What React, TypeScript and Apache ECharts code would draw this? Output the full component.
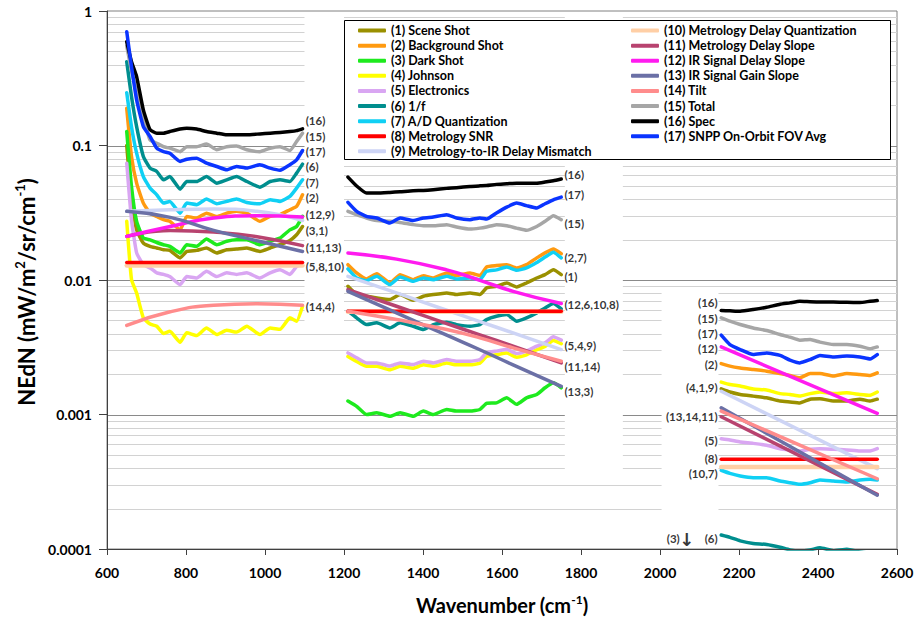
import React, { useEffect, useRef } from "react";
import * as echarts from "echarts";

const FONT = "Lato, 'Noto Sans', sans-serif";

// Wavenumber sampling (cm^-1) for the three bands
const WN_LW = [650, 662, 675, 692, 709, 726, 743, 759, 785, 802, 827, 852, 878, 903, 928, 954, 987, 1013, 1038, 1063, 1080, 1095];
const WN_LW_S = [650, 760, 870, 980, 1095];
const WN_LW_F = [650, 1095];
const WN_MW = [1210, 1232, 1257, 1283, 1316, 1342, 1375, 1401, 1426, 1460, 1485, 1519, 1544, 1561, 1586, 1612, 1637, 1662, 1688, 1709, 1730, 1750];
const WN_MW_S = [1210, 1333, 1460, 1544, 1628, 1750];
const WN_MW_F = [1210, 1750];
const WN_SW = [2155, 2177, 2203, 2236, 2270, 2304, 2329, 2354, 2380, 2405, 2439, 2473, 2506, 2532, 2550];
const WN_SW_F = [2155, 2550];

// NEdN values (mW/m^2/sr/cm^-1)
const SCENE_LW = [0.1, 0.0395, 0.0236, 0.0188, 0.0178, 0.0173, 0.0168, 0.0166, 0.0146, 0.0163, 0.0166, 0.0173, 0.0159, 0.0168, 0.017, 0.0173, 0.0163, 0.0173, 0.0183, 0.0197, 0.0217, 0.025];
const SCENE_MW = [0.00898, 0.00779, 0.00757, 0.00735, 0.00715, 0.00779, 0.00707, 0.00757, 0.00779, 0.00801, 0.00779, 0.00801, 0.00779, 0.00873, 0.00898, 0.0095, 0.00888, 0.0095, 0.01035, 0.01096, 0.0119, 0.01096];
const SCENE_SW = [0.00155, 0.00147, 0.00141, 0.00137, 0.00133, 0.00126, 0.00124, 0.00122, 0.0013, 0.00131, 0.00126, 0.00126, 0.0013, 0.00126, 0.0013];

const BG_LW = [0.189, 0.083, 0.0525, 0.0373, 0.0314, 0.0297, 0.0281, 0.0273, 0.0236, 0.0297, 0.0289, 0.0314, 0.0297, 0.0314, 0.0324, 0.0314, 0.0273, 0.0297, 0.0306, 0.0333, 0.0352, 0.043];
const BG_MW = [0.013, 0.01128, 0.01018, 0.01115, 0.0095, 0.01096, 0.01006, 0.01077, 0.01035, 0.01128, 0.01077, 0.01128, 0.01077, 0.0125, 0.0128, 0.013, 0.0123, 0.013, 0.0146, 0.0159, 0.017, 0.0157];
const BG_SW = [0.00239, 0.00229, 0.00222, 0.00216, 0.0021, 0.00202, 0.00195, 0.001875, 0.00202, 0.00202, 0.00193, 0.00202, 0.00198, 0.00195, 0.00204];

const DARK_LW = [0.127, 0.0496, 0.0273, 0.0205, 0.0199, 0.019, 0.0183, 0.0178, 0.0159, 0.0183, 0.0178, 0.0202, 0.0183, 0.0194, 0.0199, 0.0199, 0.0183, 0.0194, 0.0205, 0.0236, 0.025, 0.0297];
const DARK_MW = [0.00126, 0.00115, 0.001, 0.00103, 0.00097, 0.00103, 0.00097, 0.00106, 0.001, 0.00109, 0.00106, 0.00106, 0.00109, 0.00121, 0.00122, 0.00133, 0.00119, 0.00133, 0.00141, 0.00158, 0.00172, 0.00158];

const JOHNSON_LW = [0.0273, 0.0101, 0.008, 0.00523, 0.0047, 0.00453, 0.004, 0.00416, 0.00345, 0.00405, 0.00386, 0.0044, 0.00393, 0.00423, 0.0041, 0.00453, 0.00393, 0.0044, 0.0043, 0.00523, 0.00494, 0.00638];
const JOHNSON_MW = [0.0027, 0.00248, 0.00228, 0.00228, 0.00215, 0.00228, 0.00221, 0.00234, 0.00228, 0.00241, 0.00234, 0.00234, 0.00241, 0.0027, 0.00278, 0.00286, 0.00267, 0.00278, 0.00303, 0.00321, 0.00355, 0.00336];
const JOHNSON_SW = [0.00174, 0.00167, 0.00163, 0.00155, 0.00152, 0.00143, 0.00141, 0.00137, 0.00143, 0.00147, 0.00143, 0.00145, 0.00141, 0.00139, 0.00147];

const ELEC_LW = [0.0739, 0.0281, 0.0159, 0.013, 0.0123, 0.0113, 0.011, 0.0106, 0.00923, 0.0106, 0.01035, 0.0116, 0.0106, 0.0113, 0.011, 0.0113, 0.01035, 0.0113, 0.0119, 0.011, 0.0126, 0.0134];
const ELEC_MW = [0.00287, 0.00264, 0.00242, 0.00242, 0.00229, 0.00242, 0.00235, 0.00249, 0.00242, 0.00256, 0.00249, 0.00249, 0.00256, 0.00287, 0.00296, 0.00304, 0.00284, 0.00296, 0.00322, 0.00341, 0.00378, 0.00357];
const ELEC_SW = [0.00066, 0.000646, 0.000624, 0.00061, 0.00059, 0.000557, 0.000545, 0.000535, 0.000551, 0.000557, 0.000551, 0.000545, 0.000535, 0.000535, 0.000557];

const ONEF_LW = [0.42, 0.231, 0.138, 0.0828, 0.0679, 0.0641, 0.0556, 0.0588, 0.0474, 0.054, 0.054, 0.0588, 0.0525, 0.0556, 0.0588, 0.054, 0.049, 0.054, 0.0556, 0.054, 0.0623, 0.0727];
const ONEF_MW = [0.00586, 0.00523, 0.00466, 0.0048, 0.0044, 0.0048, 0.00453, 0.00428, 0.00466, 0.00485, 0.00466, 0.00453, 0.00466, 0.00508, 0.00537, 0.00553, 0.00494, 0.00523, 0.00569, 0.0062, 0.00668, 0.0061];
const ONEF_SW = [0.000127, 0.000122, 0.000115, 0.00011, 0.000108, 0.000103, 0.0000985, 0.000097, 0.0000985, 0.000102, 0.000097, 0.0000997, 0.000095, 0.000093, 0.000091];

const AD_LW = [0.247, 0.138, 0.0877, 0.0588, 0.0482, 0.043, 0.0373, 0.0384, 0.0314, 0.0373, 0.0363, 0.04, 0.0369, 0.0384, 0.04, 0.0377, 0.0369, 0.0395, 0.0384, 0.0418, 0.0482, 0.0556];
const AD_MW = [0.01208, 0.01035, 0.00989, 0.01065, 0.00924, 0.01053, 0.00978, 0.01035, 0.01006, 0.01065, 0.01018, 0.01035, 0.01006, 0.0116, 0.0119, 0.0125, 0.0118, 0.0123, 0.0135, 0.0148, 0.0161, 0.0146];
const AD_SW = [0.000385, 0.000365, 0.000349, 0.000339, 0.000339, 0.00032, 0.000311, 0.000303, 0.000311, 0.000326, 0.00032, 0.000315, 0.000326, 0.00033, 0.000326];

const METSNR_LW = [0.0135, 0.0135];
const METSNR_MW = [0.00586, 0.00586];
const METSNR_SW = [0.000464, 0.000464];

const MISMATCH_LW = [0.0324, 0.0333, 0.0337, 0.0324, 0.0277];
const MISMATCH_MW = [0.01065, 0.00801, 0.00596, 0.00491, 0.00404, 0.00304];
const MISMATCH_SW = [0.00149, 0.000396];

const METQ_LW = [0.0128, 0.0128];
const METQ_MW = [0.0058, 0.0058];
const METQ_SW = [0.000407, 0.000407];

const METSLOPE_LW = [0.0211, 0.0233, 0.0227, 0.021, 0.018];
const METSLOPE_MW = [0.00848, 0.00638, 0.00474, 0.00391, 0.00322, 0.00242];
const METSLOPE_SW = [0.000962, 0.000255];

const IRDELAY_LW = [0.0211, 0.025, 0.0289, 0.03, 0.0294];
const IRDELAY_MW = [0.0159, 0.0143, 0.0119, 0.00995, 0.00824, 0.00668];
const IRDELAY_SW = [0.00318, 0.00102];

const GAIN_LW = [0.0324, 0.0292, 0.0234, 0.0196, 0.0163];
const GAIN_MW = [0.00824, 0.00569, 0.00389, 0.00303, 0.00234, 0.00162];
const GAIN_SW = [0.00112, 0.000251];

const TILT_LW = [0.0046, 0.0058, 0.0065, 0.00667, 0.0065];
const TILT_MW = [0.00586, 0.00508, 0.00428, 0.00371, 0.00313, 0.00249];
const TILT_SW = [0.00106, 0.000333];

const TOTAL_LW = [0.55, 0.36, 0.25, 0.16, 0.11, 0.104, 0.098, 0.0955, 0.09, 0.098, 0.098, 0.1026, 0.093, 0.098, 0.099, 0.093, 0.09, 0.0955, 0.098, 0.0918, 0.107, 0.1235];
const TOTAL_MW = [0.0324, 0.0306, 0.0289, 0.0277, 0.0273, 0.0268, 0.0258, 0.0253, 0.0253, 0.0258, 0.0248, 0.0239, 0.0243, 0.0248, 0.0258, 0.0253, 0.0243, 0.0234, 0.025, 0.0273, 0.0301, 0.0281];
const TOTAL_SW = [0.00523, 0.00494, 0.00467, 0.0044, 0.00421, 0.00393, 0.00376, 0.00357, 0.00361, 0.00345, 0.00331, 0.00331, 0.00322, 0.00308, 0.00318];

const SPEC_LW = [0.59, 0.42, 0.325, 0.184, 0.131, 0.1235, 0.1235, 0.127, 0.1325, 0.1345, 0.1325, 0.127, 0.1235, 0.12, 0.12, 0.12, 0.122, 0.1235, 0.125, 0.127, 0.129, 0.133];
const SPEC_MW = [0.0582, 0.05, 0.0443, 0.0443, 0.0448, 0.0453, 0.0461, 0.0463, 0.0469, 0.048, 0.0485, 0.0496, 0.0501, 0.0504, 0.0514, 0.0519, 0.0525, 0.0525, 0.0525, 0.0535, 0.0547, 0.0563];
const SPEC_SW = [0.00593, 0.0059, 0.00586, 0.00603, 0.00627, 0.0066, 0.00676, 0.00695, 0.0069, 0.00687, 0.00687, 0.00683, 0.0068, 0.00695, 0.00703];

const FOV_LW = [0.7, 0.386, 0.218, 0.138, 0.1167, 0.0955, 0.09, 0.0877, 0.0761, 0.079, 0.0805, 0.0739, 0.0698, 0.066, 0.0698, 0.0679, 0.0719, 0.0679, 0.0655, 0.0719, 0.0782, 0.0918];
const FOV_MW = [0.0378, 0.0324, 0.0297, 0.0289, 0.0265, 0.0289, 0.0277, 0.0289, 0.0294, 0.0306, 0.0289, 0.0281, 0.0289, 0.0284, 0.0315, 0.0348, 0.0373, 0.0357, 0.0343, 0.0369, 0.0395, 0.0413];
const FOV_SW = [0.00389, 0.00331, 0.00304, 0.00279, 0.00287, 0.00275, 0.00254, 0.00242, 0.00256, 0.00275, 0.00268, 0.00272, 0.00268, 0.00259, 0.00279];

const NAMES = [
  "(1) Scene Shot",
  "(2) Background Shot",
  "(3) Dark Shot",
  "(4) Johnson",
  "(5) Electronics",
  "(6) 1/f",
  "(7) A/D Quantization",
  "(8) Metrology SNR",
  "(9) Metrology-to-IR Delay Mismatch",
  "(10) Metrology Delay Quantization",
  "(11) Metrology Delay Slope",
  "(12) IR Signal Delay Slope",
  "(13) IR Signal Gain Slope",
  "(14) Tilt",
  "(15) Total",
  "(16) Spec",
  "(17) SNPP On-Orbit FOV Avg",
];

const COLORS = [
  "#9a9000", "#ff9a10", "#1eea1e", "#ffff00", "#d9a6f2", "#008e8e", "#10d0f4", "#ff0000", "#cdd4f5",
  "#ffcfa6", "#b8436f", "#ff1bef", "#6b70a6", "#ff8c8c", "#a6a6a6", "#000000", "#0a34ff",
];

// Curve end-labels, one column per band
const LABEL_LW_X = 1103;
const LABELS_LW_TEXT = ["(16)", "(15)", "(17)", "(6)", "(7)", "(2)", "(12,9)", "(3,1)", "(11,13)", "(5,8,10)", "(14,4)"];
const LABELS_LW_Y = [0.153, 0.117, 0.0903, 0.0699, 0.0535, 0.0411, 0.0306, 0.0234, 0.0173, 0.0126, 0.00638];
const LABEL_MW_X = 1758;
const LABELS_MW_TEXT = ["(16)", "(17)", "(15)", "(2,7)", "(1)", "(12,6,10,8)", "(5,4,9)", "(11,14)", "(13,3)"];
const LABELS_MW_Y = [0.0605, 0.043, 0.0265, 0.0148, 0.0106, 0.00656, 0.00326, 0.00229, 0.00148];
const LABEL_SW_X = 2146;
const LABELS_SW_TEXT = ["(16)", "(15)", "(17)", "(12)", "(2)", "(4,1,9)", "(13,14,11)", "(5)", "(8)", "(10,7)", "(6)"];
const LABELS_SW_Y = [0.00675, 0.00514, 0.00398, 0.00308, 0.00235, 0.00158, 0.00097, 0.000643, 0.00047, 0.000366, 0.00012];
const LABEL_DARK_SW = { x: 2050, y: 0.00012, text: "(3)" };
const ARROW_DARK_SW = { x: 2067, y: 0.000117 };

// Blank strips of plot background behind the label columns: [x0, y0, x1, y1]
const GRID_MASKS = [
  [1100, 0.0048, 1200, 0.95],
  [1759, 0.00034, 1906, 0.95],
  [2004, 0.000102, 2148, 0.0085],
];

const X_MIN = 600;
const X_MAX = 2600;
const Y_MIN = 0.0001;
const Y_MAX = 1;

const MAJOR_LINES = [0.001, 0.01, 0.1];
const MINOR_LINES: number[] = [];
for (let d = -4; d < 0; d++) {
  for (let k = 2; k <= 9; k++) MINOR_LINES.push(k * Math.pow(10, d));
}

type BandPair = [number[], number[]];
const BANDS: BandPair[][] = [
  [[WN_LW, SCENE_LW], [WN_MW, SCENE_MW], [WN_SW, SCENE_SW]],
  [[WN_LW, BG_LW], [WN_MW, BG_MW], [WN_SW, BG_SW]],
  [[WN_LW, DARK_LW], [WN_MW, DARK_MW]],
  [[WN_LW, JOHNSON_LW], [WN_MW, JOHNSON_MW], [WN_SW, JOHNSON_SW]],
  [[WN_LW, ELEC_LW], [WN_MW, ELEC_MW], [WN_SW, ELEC_SW]],
  [[WN_LW, ONEF_LW], [WN_MW, ONEF_MW], [WN_SW, ONEF_SW]],
  [[WN_LW, AD_LW], [WN_MW, AD_MW], [WN_SW, AD_SW]],
  [[WN_LW_F, METSNR_LW], [WN_MW_F, METSNR_MW], [WN_SW_F, METSNR_SW]],
  [[WN_LW_S, MISMATCH_LW], [WN_MW_S, MISMATCH_MW], [WN_SW_F, MISMATCH_SW]],
  [[WN_LW_F, METQ_LW], [WN_MW_F, METQ_MW], [WN_SW_F, METQ_SW]],
  [[WN_LW_S, METSLOPE_LW], [WN_MW_S, METSLOPE_MW], [WN_SW_F, METSLOPE_SW]],
  [[WN_LW_S, IRDELAY_LW], [WN_MW_S, IRDELAY_MW], [WN_SW_F, IRDELAY_SW]],
  [[WN_LW_S, GAIN_LW], [WN_MW_S, GAIN_MW], [WN_SW_F, GAIN_SW]],
  [[WN_LW_S, TILT_LW], [WN_MW_S, TILT_MW], [WN_SW_F, TILT_SW]],
  [[WN_LW, TOTAL_LW], [WN_MW, TOTAL_MW], [WN_SW, TOTAL_SW]],
  [[WN_LW, SPEC_LW], [WN_MW, SPEC_MW], [WN_SW, SPEC_SW]],
  [[WN_LW, FOV_LW], [WN_MW, FOV_MW], [WN_SW, FOV_SW]],
];

// paint order: metrology SNR over its quantization twin
const DRAW_ORDER = [0, 1, 2, 3, 4, 5, 6, 8, 9, 7, 10, 11, 12, 13, 14, 15, 16];

const labelFont = { fontFamily: FONT, fontWeight: "bold" as const, fontSize: 11.5, color: "#000" };

function gridLineSeries(name: string, values: number[], stroke: string) {
  return {
    type: "custom",
    name,
    z: 1,
    silent: true,
    encode: { x: 0, y: 1 },
    data: values.map((v) => [X_MIN, v]),
    renderItem: (_p: any, api: any) => {
      const v = api.value(1);
      const a = api.coord([X_MIN, v]);
      const b = api.coord([X_MAX, v]);
      const y = Math.round(a[1]) + 0.5;
      return { type: "line", shape: { x1: a[0], y1: y, x2: b[0], y2: y }, style: { stroke, lineWidth: 1 } };
    },
  };
}

function buildOption() {
  const series: any[] = [];

  series.push(gridLineSeries("minor-grid", MINOR_LINES, "#d2d2d2"));
  series.push(gridLineSeries("major-grid", MAJOR_LINES, "#8a8a8a"));
  series.push({
    type: "custom",
    name: "grid-mask",
    z: 2,
    silent: true,
    encode: { x: [0, 2], y: [1, 3] },
    data: GRID_MASKS,
    renderItem: (_p: any, api: any) => {
      const p0 = api.coord([api.value(0), api.value(1)]);
      const p1 = api.coord([api.value(2), api.value(3)]);
      return {
        type: "rect",
        shape: {
          x: Math.min(p0[0], p1[0]),
          y: Math.min(p0[1], p1[1]),
          width: Math.abs(p1[0] - p0[0]),
          height: Math.abs(p1[1] - p0[1]),
        },
        style: { fill: "#ffffff" },
      };
    },
  });

  DRAW_ORDER.forEach((idx) => {
    BANDS[idx].forEach(([wn, vals]) => {
      series.push({
        type: "line",
        name: NAMES[idx],
        z: 3,
        silent: true,
        symbol: "none",
        smooth: wn.length <= 6 ? true : 0.15,
        clip: true,
        color: COLORS[idx],
        itemStyle: { color: COLORS[idx] },
        lineStyle: { color: COLORS[idx], width: idx === 9 ? 4.5 : 3.5, cap: "round", join: "round" },
        data: wn.map((x, i) => [x, vals[i]]),
      });
    });
  });

  const labelSeries = (xs: number, texts: string[], ys: number[], pos: "left" | "right") => ({
    type: "scatter",
    name: "labels",
    z: 4,
    silent: true,
    symbolSize: 0,
    data: texts.map((t, i) => [xs, ys[i], t]),
    label: {
      show: true,
      position: pos,
      distance: 0,
      formatter: (p: any) => p.data[2],
      ...labelFont,
    },
  });
  series.push(labelSeries(LABEL_LW_X, LABELS_LW_TEXT, LABELS_LW_Y, "right"));
  series.push(labelSeries(LABEL_MW_X, LABELS_MW_TEXT, LABELS_MW_Y, "right"));
  series.push(labelSeries(LABEL_SW_X, LABELS_SW_TEXT, LABELS_SW_Y, "left"));
  series.push(labelSeries(LABEL_DARK_SW.x, [LABEL_DARK_SW.text], [LABEL_DARK_SW.y], "left"));
  series.push({
    type: "scatter",
    name: "arrow",
    z: 4,
    silent: true,
    symbolSize: 0,
    data: [[ARROW_DARK_SW.x, ARROW_DARK_SW.y]],
    label: {
      show: true,
      position: "inside",
      formatter: "\u2193",
      fontFamily: "'DejaVu Sans', sans-serif",
      fontWeight: "bold",
      fontSize: 18,
      color: "#000",
    },
  });

  const legendBase = {
    orient: "vertical",
    top: 23,
    padding: 0,
    itemGap: 0,
    itemWidth: 28,
    itemHeight: 4,
    icon: "roundRect",
    itemStyle: { borderWidth: 0 },
    selectedMode: false,
    z: 20,
    textStyle: { fontFamily: FONT, fontWeight: "bold", fontSize: 12.5, color: "#000", lineHeight: 15.1 },
  };

  const supRich = (size: number, sup: number) => ({
    t: { fontFamily: FONT, fontWeight: "bold", fontSize: size, color: "#000", lineHeight: size + 4 },
    s: { fontFamily: FONT, fontWeight: "bold", fontSize: sup, color: "#000", verticalAlign: "top" },
  });

  return {
    animation: false,
    backgroundColor: "#ffffff",
    textStyle: { fontFamily: FONT },
    grid: {
      left: 107,
      top: 11,
      width: 790,
      height: 538,
      show: true,
      borderColor: "#808080",
      borderWidth: 1,
      backgroundColor: "transparent",
    },
    xAxis: {
      type: "value",
      min: X_MIN,
      max: X_MAX,
      interval: 200,
      z: 5,
      axisLine: { show: true, onZero: false, lineStyle: { color: "#404040", width: 1 } },
      axisTick: { show: true, length: 6, lineStyle: { color: "#404040" } },
      axisLabel: {
        fontFamily: FONT,
        fontWeight: "bold",
        fontSize: 14,
        color: "#000",
        margin: 16,
        formatter: (v: number) => String(v),
      },
      splitLine: { show: false },
      name: "{t|Wavenumber (cm}{s|-1}{t|)}",
      nameLocation: "middle",
      nameGap: 44,
      nameTextStyle: { rich: supRich(20, 12) },
    },
    yAxis: {
      type: "log",
      logBase: 10,
      min: Y_MIN,
      max: Y_MAX,
      z: 5,
      axisLine: { show: true, onZero: false, lineStyle: { color: "#404040", width: 1 } },
      axisTick: { show: true, length: 8, lineStyle: { color: "#404040" } },
      axisLabel: {
        fontFamily: FONT,
        fontWeight: "bold",
        fontSize: 14,
        color: "#000",
        margin: 15,
        formatter: (v: number) => String(parseFloat(v.toPrecision(4))),
      },
      splitLine: { show: false },
      minorTick: { show: false },
    },
    legend: [
      { ...legendBase, left: 358, data: NAMES.slice(0, 9) },
      { ...legendBase, left: 631, data: NAMES.slice(9) },
    ],
    graphic: [
      {
        type: "rect",
        z: 10,
        silent: true,
        shape: { x: 344.5, y: 20.5, width: 546, height: 139 },
        style: { fill: "#ffffff", stroke: "#000000", lineWidth: 1 },
      },
      {
        type: "text",
        z: 10,
        silent: true,
        x: 26,
        y: 292,
        rotation: Math.PI / 2,
        style: {
          text: "{t|NEdN (mW/m}{s|2}{t|/sr/cm}{s|-1}{t|)}",
          align: "center",
          verticalAlign: "middle",
          rich: {
            t: { fontFamily: FONT, fontWeight: "bold", fontSize: 22, fill: "#000", lineHeight: 26 },
            s: { fontFamily: FONT, fontWeight: "bold", fontSize: 13, fill: "#000", verticalAlign: "top" },
          },
        },
      },
    ],
    series,
  };
}

export default function App() {
  const ref = useRef<HTMLDivElement>(null);
  useEffect(() => {
    if (!ref.current) return;
    const chart = echarts.init(ref.current, undefined, { renderer: "svg" });
    chart.setOption(buildOption() as any);
    return () => chart.dispose();
  }, []);
  return (
    <div
      ref={ref}
      style={{ position: "fixed", left: 0, top: 0, width: 917, height: 624, background: "#fff" }}
    />
  );
}
